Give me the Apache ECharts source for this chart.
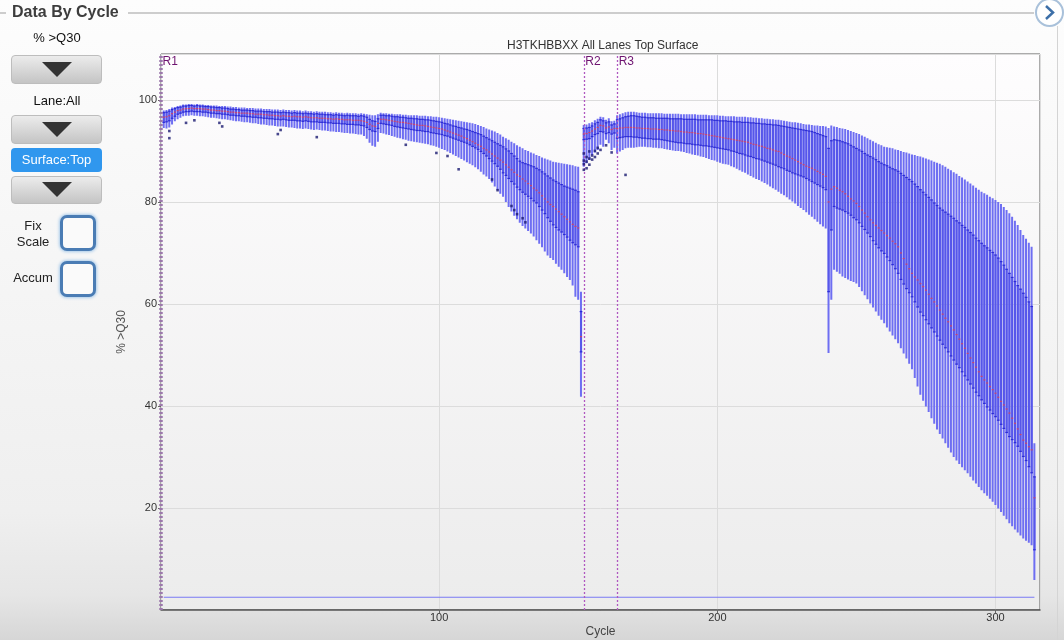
<!DOCTYPE html>
<html>
<head>
<meta charset="utf-8">
<title>Data By Cycle</title>
<script src="https://cdn.jsdelivr.net/npm/echarts@6/dist/echarts.min.js"></script>
<style>
  html, body { margin: 0; padding: 0; }
  body {
    width: 1064px; height: 640px; overflow: hidden; position: relative;
    font-family: "Liberation Sans", Arial, sans-serif;
    background: linear-gradient(to bottom, #fdfdfd 0%, #f6f6f6 40%, #efefef 80%, #e6e6e6 93%, #d6d6d6 100%);
  }
  #chart { position: absolute; left: 0; top: 0; width: 1064px; height: 640px; }
  .hdr { position: absolute; left: 12px; top: 3px; font-size: 16px; font-weight: bold; color: #3d3d3d; }
  .rule { position: absolute; top: 12px; height: 2px; background: #cdcdcd; }
  .edge { position: absolute; left: 1057px; top: 26px; width: 1px; height: 614px; background: #d4d4d4; }
  .nav { position: absolute; left: 1035px; top: -2px; width: 25px; height: 25px; border-radius: 50%;
         border: 2px solid #a9c1da; background: #fff; }
  .lbl { position: absolute; width: 114px; text-align: center; font-size: 13px; color: #111; }
  .btn { position: absolute; left: 11px; width: 91px; border-radius: 4px; border: 1px solid #bdbdbd;
         background: linear-gradient(to bottom, #ececec, #c4c4c4); box-sizing: border-box; }
  .btn .tri { position: absolute; left: 30px; width: 0; height: 0;
              border-left: 15px solid transparent; border-right: 15px solid transparent; border-top: 15px solid #333; }
  .sel { position: absolute; left: 11px; top: 148px; width: 91px; height: 24px; border-radius: 4px;
         background: #3097ee; color: #fff; font-size: 13px; text-align: center; line-height: 24px; }
  .chk { position: absolute; left: 60px; width: 30px; height: 30px; border: 3px solid #4a7cb4; border-radius: 7px;
         background: #fafafa; box-shadow: 0 0 3px 1px #a9cbea; }
  .side { position: absolute; font-size: 13px; color: #222; text-align: center; line-height: 16px; }
</style>
</head>
<body>
<div class="edge"></div>
<div id="chart"></div>

<div class="rule" style="left:0; width:6px;"></div>
<div class="hdr">Data By Cycle</div>
<div class="rule" style="left:128px; width:906px;"></div>
<div class="nav">
  <svg width="25" height="25" viewBox="0 0 25 25"><polyline points="9,6 16,12.5 9,19" fill="none" stroke="#3d6fa8" stroke-width="2.5"/></svg>
</div>

<div class="lbl" style="left:0; top:30px;">% &gt;Q30</div>
<div class="btn" style="top:55px; height:29px;"><div class="tri" style="top:6px;"></div></div>
<div class="lbl" style="left:0; top:93px;">Lane:All</div>
<div class="btn" style="top:115px; height:29px;"><div class="tri" style="top:6px;"></div></div>
<div class="sel">Surface:Top</div>
<div class="btn" style="top:176px; height:28px;"><div class="tri" style="top:5px;"></div></div>
<div class="side" style="left:10px; top:218px; width:46px;">Fix<br>Scale</div>
<div class="chk" style="top:215px;"></div>
<div class="side" style="left:8px; top:270px; width:50px;">Accum</div>
<div class="chk" style="top:261px;"></div>

<script>
// % >Q30 per cycle: read 1 (cycles 1-151), index (152-163), read 2 (164-314)
const read1High = [
  97.9, 98.0, 98.2, 98.5, 98.6, 98.8, 98.9, 99.1, 99.1, 99.2,
  99.2, 99.1, 99.2, 99.1, 99.1, 99.0, 99.0, 98.9, 98.9, 98.9,
  98.8, 98.8, 98.8, 98.7, 98.7, 98.6, 98.6, 98.5, 98.5, 98.5,
  98.4, 98.4, 98.4, 98.3, 98.3, 98.3, 98.2, 98.2, 98.2, 98.1,
  98.1, 98.1, 98.0, 98.1, 98.0, 98.0, 97.9, 98.0, 97.9, 97.9,
  97.8, 97.9, 97.8, 97.8, 97.7, 97.8, 97.7, 97.7, 97.7, 97.6,
  97.6, 97.5, 97.6, 97.5, 97.5, 97.4, 97.5, 97.4, 97.4, 97.4,
  97.3, 97.4, 97.3, 97.2, 97.1, 97.0, 97.0, 97.2, 97.5, 97.4,
  97.4, 97.3, 97.3, 97.2, 97.2, 97.2, 97.1, 97.1, 97.0, 97.0,
  97.0, 97.0, 96.9, 96.9, 96.9, 96.8, 96.8, 96.7, 96.7, 96.6,
  96.5, 96.4, 96.3, 96.2, 96.1, 96.0, 95.9, 95.8, 95.7, 95.6,
  95.5, 95.4, 95.3, 95.1, 94.9, 94.7, 94.4, 94.2, 94.0, 93.8,
  93.5, 93.2, 92.8, 92.5, 92.2, 91.8, 91.5, 91.1, 90.8, 90.5,
  90.2, 90.0, 89.7, 89.5, 89.2, 89.0, 88.7, 88.5, 88.3, 88.1,
  87.9, 87.8, 87.7, 87.6, 87.5, 87.4, 87.3, 87.2, 87.0, 86.9,
  62.4
];
const read1Q3 = [
  97.5, 97.6, 97.8, 98.1, 98.3, 98.5, 98.6, 98.8, 98.8, 98.9,
  98.9, 98.8, 98.9, 98.8, 98.8, 98.7, 98.7, 98.6, 98.6, 98.5,
  98.5, 98.4, 98.4, 98.3, 98.2, 98.2, 98.1, 98.1, 98.0, 98.0,
  98.0, 97.9, 97.9, 97.8, 97.8, 97.8, 97.7, 97.7, 97.7, 97.6,
  97.6, 97.6, 97.5, 97.6, 97.5, 97.5, 97.4, 97.5, 97.4, 97.4,
  97.3, 97.4, 97.3, 97.3, 97.2, 97.3, 97.2, 97.2, 97.1, 97.1,
  97.1, 97.0, 97.1, 97.0, 97.0, 96.9, 97.0, 96.9, 96.9, 96.9,
  96.8, 96.9, 96.8, 96.6, 96.2, 95.9, 95.8, 96.3, 97.0, 97.0,
  96.9, 96.9, 96.8, 96.7, 96.7, 96.6, 96.6, 96.5, 96.4, 96.4,
  96.3, 96.3, 96.2, 96.2, 96.1, 96.1, 96.0, 95.9, 95.8, 95.7,
  95.6, 95.4, 95.3, 95.1, 94.9, 94.8, 94.6, 94.5, 94.3, 94.2,
  94.0, 93.8, 93.6, 93.4, 93.2, 92.9, 92.6, 92.3, 92.0, 91.7,
  91.4, 91.1, 90.8, 90.4, 90.0, 89.5, 89.0, 88.5, 88.0, 87.7,
  87.5, 87.3, 87.1, 86.9, 86.6, 86.3, 85.9, 85.5, 85.1, 84.7,
  84.3, 84.0, 83.7, 83.4, 83.1, 82.9, 82.7, 82.5, 82.3, 82.0,
  58.5
];
const read1Median = [
  96.6, 96.7, 96.9, 97.3, 97.6, 97.9, 98.0, 98.2, 98.3, 98.3,
  98.4, 98.3, 98.3, 98.3, 98.2, 98.2, 98.1, 98.0, 98.0, 97.9,
  97.9, 97.8, 97.8, 97.7, 97.6, 97.6, 97.5, 97.5, 97.4, 97.4,
  97.4, 97.3, 97.3, 97.2, 97.2, 97.2, 97.1, 97.1, 97.0, 97.0,
  96.9, 96.9, 96.8, 96.9, 96.8, 96.8, 96.7, 96.8, 96.7, 96.7,
  96.6, 96.7, 96.6, 96.5, 96.5, 96.5, 96.4, 96.4, 96.4, 96.3,
  96.3, 96.2, 96.3, 96.2, 96.2, 96.1, 96.1, 96.1, 96.0, 96.0,
  96.0, 95.9, 95.8, 95.6, 95.2, 94.9, 94.8, 95.4, 96.2, 96.2,
  96.1, 96.0, 95.9, 95.8, 95.7, 95.6, 95.6, 95.5, 95.4, 95.3,
  95.2, 95.1, 95.0, 95.0, 94.9, 94.8, 94.7, 94.6, 94.5, 94.4,
  94.3, 94.1, 93.9, 93.7, 93.5, 93.3, 93.1, 92.9, 92.6, 92.4,
  92.1, 91.8, 91.5, 91.2, 90.9, 90.5, 90.2, 89.8, 89.4, 89.0,
  88.6, 88.2, 87.8, 87.3, 86.8, 86.3, 85.8, 85.3, 85.0, 84.5,
  84.1, 83.6, 83.2, 82.7, 82.3, 81.8, 81.2, 80.6, 80.0, 79.5,
  79.1, 78.6, 78.1, 77.6, 77.1, 76.6, 76.1, 75.6, 75.2, 74.9,
  53.6
];
const read1Q1 = [
  95.6, 95.7, 95.9, 96.4, 96.8, 97.2, 97.4, 97.6, 97.7, 97.7,
  97.8, 97.7, 97.7, 97.7, 97.6, 97.6, 97.5, 97.4, 97.4, 97.3,
  97.3, 97.2, 97.2, 97.1, 97.0, 97.0, 96.9, 96.9, 96.8, 96.8,
  96.7, 96.7, 96.6, 96.6, 96.5, 96.5, 96.4, 96.4, 96.3, 96.3,
  96.2, 96.2, 96.1, 96.2, 96.1, 96.0, 96.0, 96.0, 95.9, 95.9,
  95.8, 95.9, 95.8, 95.7, 95.7, 95.7, 95.6, 95.6, 95.6, 95.5,
  95.5, 95.4, 95.4, 95.4, 95.3, 95.3, 95.2, 95.2, 95.2, 95.1,
  95.1, 95.0, 94.9, 94.6, 94.2, 93.9, 93.8, 94.4, 95.4, 95.3,
  95.2, 95.1, 95.0, 94.8, 94.7, 94.6, 94.5, 94.4, 94.3, 94.2,
  94.1, 94.0, 94.0, 93.9, 93.8, 93.8, 93.6, 93.5, 93.4, 93.3,
  93.2, 93.0, 92.9, 92.7, 92.5, 92.3, 92.1, 91.9, 91.7, 91.5,
  91.2, 90.9, 90.6, 90.3, 89.9, 89.5, 89.0, 88.5, 88.0, 87.5,
  87.0, 86.4, 85.7, 85.2, 84.6, 84.0, 83.5, 82.9, 82.4, 81.9,
  81.5, 81.1, 80.7, 80.2, 79.8, 79.1, 78.4, 77.7, 76.9, 76.2,
  75.5, 75.0, 74.5, 74.1, 73.6, 73.1, 72.5, 72.0, 71.6, 71.2,
  50.6
];
const read1Low = [
  94.5, 94.4, 94.6, 95.2, 95.8, 96.2, 96.5, 96.8, 96.9, 96.9,
  97.0, 96.9, 96.9, 96.8, 96.8, 96.7, 96.6, 96.5, 96.5, 96.4,
  96.3, 96.2, 96.2, 96.1, 96.0, 95.9, 95.8, 95.8, 95.7, 95.6,
  95.6, 95.5, 95.4, 95.4, 95.3, 95.2, 95.2, 95.1, 95.0, 95.0,
  94.9, 94.8, 94.8, 94.8, 94.7, 94.6, 94.6, 94.5, 94.4, 94.4,
  94.3, 94.4, 94.3, 94.2, 94.1, 94.2, 94.1, 94.0, 94.0, 93.9,
  93.8, 93.8, 93.7, 93.7, 93.6, 93.5, 93.5, 93.4, 93.4, 93.3,
  93.2, 93.2, 92.9, 92.4, 91.6, 91.0, 90.8, 91.8, 93.5, 93.4,
  93.2, 93.1, 92.9, 92.8, 92.6, 92.5, 92.3, 92.2, 92.0, 91.9,
  91.8, 91.7, 91.6, 91.5, 91.4, 91.3, 91.1, 91.0, 90.8, 90.6,
  90.4, 90.2, 89.9, 89.6, 89.3, 89.0, 88.7, 88.4, 88.1, 87.8,
  87.5, 87.2, 86.8, 86.4, 85.9, 85.4, 85.0, 84.5, 83.8, 83.0,
  82.3, 81.6, 81.0, 80.0, 79.0, 78.1, 77.3, 76.6, 75.9, 75.3,
  74.8, 74.3, 73.8, 73.2, 72.5, 71.8, 71.1, 70.3, 69.5, 69.0,
  68.6, 67.9, 67.3, 66.7, 66.0, 65.3, 64.7, 63.6, 61.4, 60.8,
  41.8
];

const indexHigh   = [95.1, 95.2, 95.4, 95.6, 96.0, 96.3, 96.7, 96.6, 96.1, 96.4, 95.8, 95.9];
const indexQ3     = [94.4, 94.5, 94.6, 94.9, 95.3, 95.6, 96.1, 95.9, 95.5, 95.7, 95.1, 95.3];
const indexMedian = [93.3, 93.4, 93.6, 93.9, 94.3, 94.6, 95.0, 94.9, 94.5, 94.7, 94.2, 94.4];
const indexQ1     = [92.2, 92.3, 92.4, 92.8, 93.2, 93.4, 93.8, 93.7, 93.4, 93.6, 93.3, 93.5];
const indexLow    = [86.9, 87.6, 88.2, 89.2, 89.7, 90.2, 91.2, 90.8, 92.2, 91.5, 90.2, 90.6];

const read2High = [
  97.0, 97.2, 97.4, 97.6, 97.7, 97.7, 97.7, 97.6, 97.5, 97.5,
  97.5, 97.4, 97.4, 97.4, 97.4, 97.4, 97.4, 97.3, 97.3, 97.3,
  97.3, 97.3, 97.3, 97.2, 97.2, 97.2, 97.2, 97.2, 97.2, 97.1,
  97.1, 97.1, 97.1, 97.0, 97.0, 97.0, 97.0, 96.9, 96.9, 96.8,
  96.8, 96.8, 96.8, 96.7, 96.7, 96.7, 96.7, 96.6, 96.6, 96.5,
  96.5, 96.4, 96.4, 96.3, 96.3, 96.2, 96.2, 96.1, 96.1, 96.0,
  95.9, 95.8, 95.7, 95.6, 95.6, 95.5, 95.4, 95.3, 95.2, 95.2,
  95.1, 95.0, 95.0, 94.9, 94.9, 94.8, 94.5, 95.0, 94.8, 94.7,
  94.5, 94.4, 94.3, 94.1, 93.9, 93.7, 93.5, 93.3, 93.0, 92.8,
  92.5, 92.2, 91.9, 91.6, 91.3, 91.1, 90.8, 90.7, 90.6, 90.5,
  90.3, 90.2, 90.0, 89.8, 89.7, 89.5, 89.3, 89.2, 89.0, 88.9,
  88.7, 88.5, 88.3, 88.1, 87.9, 87.7, 87.5, 87.2, 86.9, 86.5,
  86.2, 85.8, 85.5, 85.1, 84.8, 84.4, 84.0, 83.6, 83.2, 82.8,
  82.4, 82.0, 81.7, 81.4, 81.0, 80.7, 80.4, 80.0, 79.6, 79.0,
  78.4, 77.8, 77.1, 76.3, 75.5, 74.5, 73.5, 72.8, 72.0, 71.2,
  32.7
];
const read2Q3 = [
  96.1, 96.3, 96.5, 96.7, 96.8, 96.9, 96.9, 96.8, 96.7, 96.6,
  96.6, 96.5, 96.5, 96.5, 96.4, 96.4, 96.4, 96.4, 96.4, 96.3,
  96.3, 96.3, 96.3, 96.3, 96.2, 96.2, 96.2, 96.2, 96.2, 96.1,
  96.1, 96.1, 96.1, 96.1, 96.1, 96.0, 96.0, 95.9, 95.9, 95.9,
  95.8, 95.8, 95.7, 95.7, 95.7, 95.6, 95.6, 95.6, 95.5, 95.5,
  95.4, 95.4, 95.3, 95.3, 95.2, 95.2, 95.1, 95.1, 95.0, 94.9,
  94.8, 94.7, 94.6, 94.5, 94.4, 94.3, 94.2, 94.1, 94.0, 93.9,
  93.8, 93.6, 93.4, 93.2, 93.0, 92.8, 90.5, 92.0, 92.2, 92.1,
  92.0, 91.8, 91.6, 91.4, 91.1, 90.8, 90.5, 90.2, 89.9, 89.5,
  89.2, 88.9, 88.6, 88.3, 87.9, 87.6, 87.3, 87.1, 86.8, 86.5,
  86.3, 86.0, 85.6, 85.2, 84.8, 84.4, 84.0, 83.5, 83.0, 82.4,
  81.9, 81.4, 80.9, 80.4, 79.8, 79.3, 78.8, 78.4, 78.0, 77.6,
  77.2, 76.8, 76.3, 75.9, 75.4, 75.0, 74.5, 74.0, 73.5, 72.9,
  72.4, 71.9, 71.4, 71.0, 70.5, 70.1, 69.6, 69.0, 68.3, 67.6,
  66.8, 66.0, 65.2, 64.4, 63.6, 62.9, 62.1, 61.3, 60.4, 59.5,
  26.1
];
const read2Median = [
  94.4, 94.5, 94.5, 94.6, 94.6, 94.6, 94.6, 94.5, 94.5, 94.4,
  94.4, 94.4, 94.3, 94.3, 94.3, 94.2, 94.2, 94.1, 94.1, 94.0,
  94.0, 93.9, 93.9, 93.8, 93.7, 93.7, 93.6, 93.6, 93.5, 93.4,
  93.4, 93.3, 93.2, 93.1, 93.0, 92.9, 92.8, 92.7, 92.6, 92.5,
  92.4, 92.3, 92.2, 92.1, 92.0, 91.9, 91.8, 91.7, 91.5, 91.3,
  91.2, 91.0, 90.9, 90.7, 90.5, 90.4, 90.2, 90.0, 89.9, 89.6,
  89.3, 89.0, 88.8, 88.5, 88.2, 87.9, 87.6, 87.3, 87.0, 86.8,
  86.6, 86.3, 86.0, 85.7, 85.4, 85.0, 80.0, 82.5, 83.0, 82.7,
  82.3, 82.0, 81.6, 81.1, 80.6, 80.2, 79.7, 79.1, 78.4, 77.8,
  77.1, 76.5, 75.9, 75.4, 74.9, 74.4, 73.9, 73.4, 72.9, 72.3,
  71.8, 71.2, 70.0, 68.9, 67.8, 66.9, 66.0, 65.3, 64.7, 64.0,
  63.4, 62.7, 61.9, 61.1, 60.4, 59.6, 58.8, 58.0, 57.2, 56.5,
  55.7, 54.9, 54.0, 53.1, 52.2, 51.3, 50.3, 49.4, 48.5, 47.6,
  46.7, 45.8, 45.1, 44.5, 43.8, 43.2, 42.5, 41.7, 40.9, 40.2,
  39.4, 38.6, 37.6, 36.6, 35.5, 34.4, 33.3, 32.7, 32.0, 31.4,
  22.0
];
const read2Q1 = [
  92.5, 92.6, 92.7, 92.8, 92.8, 92.8, 92.7, 92.7, 92.6, 92.5,
  92.5, 92.4, 92.4, 92.3, 92.3, 92.3, 92.2, 92.1, 92.0, 91.9,
  91.8, 91.7, 91.6, 91.6, 91.5, 91.4, 91.4, 91.3, 91.2, 91.2,
  91.1, 91.0, 91.0, 90.9, 90.8, 90.7, 90.6, 90.5, 90.4, 90.3,
  90.2, 90.0, 89.9, 89.7, 89.5, 89.4, 89.2, 89.0, 88.9, 88.7,
  88.5, 88.4, 88.2, 88.0, 87.8, 87.6, 87.4, 87.2, 86.9, 86.7,
  86.5, 86.2, 86.0, 85.7, 85.5, 85.3, 85.1, 84.9, 84.6, 84.3,
  84.0, 83.7, 83.4, 83.1, 82.8, 82.4, 62.4, 74.5, 79.1, 78.8,
  78.6, 78.4, 78.1, 77.8, 77.4, 76.9, 76.5, 75.9, 75.2, 74.6,
  73.9, 73.2, 72.4, 71.7, 71.0, 70.4, 69.9, 69.2, 68.5, 67.7,
  66.9, 66.0, 64.8, 63.9, 63.0, 62.2, 61.4, 60.4, 59.4, 58.4,
  57.7, 56.9, 56.1, 55.3, 54.5, 53.7, 52.9, 52.1, 51.4, 50.6,
  49.8, 49.0, 48.2, 47.5, 46.7, 45.9, 45.1, 44.3, 43.5, 42.7,
  42.0, 41.2, 40.5, 39.8, 39.2, 38.5, 37.9, 37.2, 36.4, 35.6,
  34.8, 34.0, 33.4, 32.8, 32.1, 31.1, 30.1, 29.3, 28.1, 26.9,
  11.8
];
const read2Low = [
  89.5, 89.9, 90.2, 90.5, 90.6, 90.6, 90.6, 90.7, 90.8, 90.8,
  90.8, 90.7, 90.7, 90.6, 90.6, 90.5, 90.5, 90.4, 90.3, 90.2,
  90.1, 90.0, 90.0, 89.9, 89.8, 89.6, 89.5, 89.3, 89.2, 89.1,
  88.9, 88.8, 88.6, 88.4, 88.2, 88.1, 87.9, 87.7, 87.5, 87.4,
  87.3, 87.0, 86.8, 86.5, 86.2, 85.9, 85.7, 85.4, 85.1, 84.8,
  84.5, 84.3, 84.0, 83.7, 83.4, 83.0, 82.7, 82.4, 82.0, 81.6,
  81.3, 80.9, 80.5, 80.1, 79.7, 79.2, 78.8, 78.4, 78.0, 77.5,
  77.1, 76.6, 76.1, 75.6, 75.2, 74.8, 50.4, 60.8, 66.7, 66.3,
  65.9, 65.4, 65.1, 64.8, 64.5, 64.3, 64.0, 63.3, 62.5, 61.7,
  60.9, 60.1, 59.3, 58.5, 57.7, 56.9, 56.2, 55.4, 54.6, 53.8,
  53.1, 52.3, 51.3, 50.3, 49.3, 48.3, 47.2, 45.5, 43.8, 42.2,
  41.0, 39.9, 38.8, 37.6, 36.5, 35.4, 34.5, 33.6, 32.7, 31.8,
  30.9, 30.0, 29.3, 28.6, 28.0, 27.4, 26.8, 26.1, 25.4, 24.8,
  24.1, 23.5, 22.9, 22.4, 21.8, 21.2, 20.6, 19.9, 19.2, 18.5,
  17.8, 17.0, 16.4, 15.8, 15.2, 14.6, 14.0, 13.6, 13.2, 12.7,
  5.9
];

// outlier tiles [cycle, % >Q30]
const outliers = [
  [3, 93.9], [3, 92.5], [9, 95.5], [12, 96.0], [21, 95.5], [22, 94.8], [42, 93.3], [43, 94.1],
  [56, 92.7], [88, 91.2], [99, 89.6], [103, 89.0], [107, 86.4], [119, 84.4], [121, 82.3],
  [126, 79.2], [127, 78.4], [128, 77.6], [130, 76.8], [131, 76.0],
  [152, 86.3], [152, 87.4], [152, 88.1], [152, 89.5], [153, 86.6], [153, 87.9], [153, 88.8],
  [154, 87.3], [154, 88.5], [154, 89.9], [155, 88.3], [155, 89.1], [156, 88.8], [156, 90.0],
  [157, 89.5], [157, 90.6], [158, 90.2], [160, 91.1], [162, 89.7], [167, 85.3]
];

// read starts
const readNames = ['R1', 'R2', 'R3'];
const readStarts = [0, 152, 164];
const baseLineValue = 2.5;

const highs = read1High.concat(indexHigh, read2High);
const q3s = read1Q3.concat(indexQ3, read2Q3);
const medians = read1Median.concat(indexMedian, read2Median);
const q1s = read1Q1.concat(indexQ1, read2Q1);
const lows = read1Low.concat(indexLow, read2Low);
const cycles = highs.map((v, i) => i + 1);

const whiskerData = cycles.map((c, i) => [c, lows[i], lows[i], lows[i], highs[i], highs[i]]);
const boxData = cycles.map((c, i) => [c, q1s[i], q1s[i], q1s[i], q3s[i], q3s[i]]);
const capData = [];
cycles.forEach((c, i) => { capData.push([c, q1s[i]]); capData.push([c, q3s[i]]); });
const medianData = cycles.map((c, i) => [c, medians[i]]);
const baseData = cycles.map(c => [c, baseLineValue]);

const chart = echarts.init(document.getElementById('chart'));
chart.setOption({
  animation: false,
  textStyle: { fontFamily: 'Liberation Sans, Arial, sans-serif' },
  title: {
    text: 'H3TKHBBXX All Lanes Top Surface',
    left: 502, top: 35,
    textStyle: { fontSize: 12, fontWeight: 'normal', color: '#333' }
  },
  grid: {
    left: 161, right: 24, top: 54, bottom: 30,
    outerBoundsMode: 'none',
    show: true,
    borderColor: '#5a5a5a', borderWidth: 1,
    backgroundColor: new echarts.graphic.LinearGradient(0, 0, 0, 1, [
      { offset: 0, color: '#fefdfe' },
      { offset: 1, color: '#ececec' }
    ])
  },
  xAxis: {
    type: 'value', min: 0, max: 316, interval: 100,
    name: 'Cycle', nameLocation: 'middle', nameGap: 16, nameMoveOverlap: false,
    nameTextStyle: { fontSize: 12, color: '#444' },
    axisLine: { show: true, lineStyle: { color: '#555', width: 1.5 } },
    axisTick: { show: true, length: 3, lineStyle: { color: '#666' } },
    axisLabel: { fontSize: 11, color: '#333', margin: 2, showMinLabel: false, showMaxLabel: false },
    splitLine: { show: true, lineStyle: { color: '#dcdcdc' } }
  },
  yAxis: {
    type: 'value', min: 0, max: 109, interval: 20,
    name: '% >Q30', nameLocation: 'middle', nameGap: 27,
    nameTextStyle: { fontSize: 12, color: '#555' },
    axisLine: { show: false },
    axisTick: { show: true, length: 3, lineStyle: { color: '#666' } },
    axisLabel: { fontSize: 11, color: '#333', margin: 4, showMinLabel: false, showMaxLabel: false },
    splitLine: { show: true, lineStyle: { color: '#dcdcdc' } }
  },
  series: [
    {
      name: 'baseline', type: 'line',
      data: baseData, showSymbol: false,
      lineStyle: { color: '#7a7af4', width: 1.2 },
      z: 2
    },
    {
      name: 'whiskers', type: 'boxplot',
      data: whiskerData, encode: { x: 0, y: [1, 2, 3, 4, 5] },
      boxWidth: [2, 2],
      itemStyle: { color: '#6e6ef2', borderColor: '#6e6ef2', borderWidth: 0 },
      z: 2
    },
    {
      name: 'boxes', type: 'boxplot',
      data: boxData, encode: { x: 0, y: [1, 2, 3, 4, 5] },
      boxWidth: [2, 2],
      itemStyle: { color: '#5656ea', borderColor: '#5656ea', borderWidth: 0 },
      z: 3
    },
    {
      name: 'box edges', type: 'scatter',
      data: capData, symbol: 'rect', symbolSize: [2.8, 1.2],
      itemStyle: { color: '#1d1dcf' },
      z: 4
    },
    {
      name: 'median', type: 'scatter',
      data: medianData, symbol: 'rect', symbolSize: [2, 1.2],
      itemStyle: { color: '#d8405c', opacity: 0.9 },
      z: 5
    },
    {
      name: 'outliers', type: 'scatter',
      data: outliers, symbol: 'rect', symbolSize: 2.6,
      itemStyle: { color: '#1a1a70' },
      z: 6
    },
    {
      name: 'reads', type: 'line',
      data: [], clip: false,
      z: 7,
      markLine: {
        silent: true, symbol: 'none',
        label: { show: false },
        lineStyle: { color: '#b058c0', type: [2, 2], width: 1.3 },
        data: readStarts.map((x, i) => ({
          xAxis: x,
          lineStyle: { color: i === 0 ? '#9c78ac' : '#b058c0', type: [2, 2], width: i === 0 ? 3.5 : 1.3 }
        }))
      },
      markPoint: {
        silent: true,
        symbol: 'rect', symbolSize: 1,
        itemStyle: { color: 'rgba(0,0,0,0)' },
        label: { show: true, formatter: '{b}', position: [2, 2], color: '#6e1470', fontSize: 12 },
        data: readStarts.map((x, i) => ({ name: readNames[i], coord: [x, 109] }))
      }
    }
  ]
});
</script>
</body>
</html>
